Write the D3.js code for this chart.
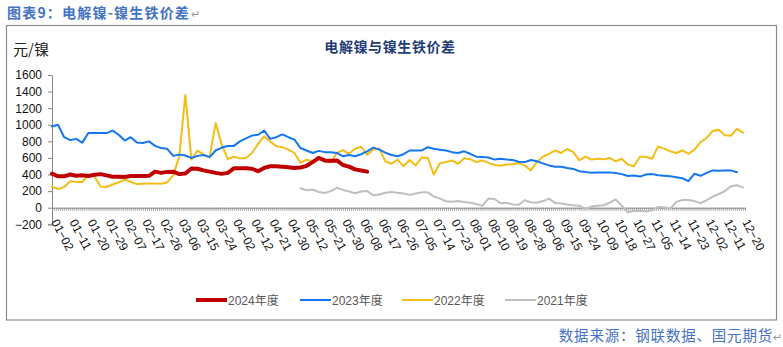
<!DOCTYPE html>
<html><head><meta charset="utf-8">
<script src="https://cdn.jsdelivr.net/npm/d3@7"></script>
<style>
html,body{margin:0;padding:0;background:#fff;}
svg text{font-family:"Liberation Sans","Noto Sans CJK SC",Arial,sans-serif;}
</style></head>
<body><svg id="c" width="783" height="347"></svg>
<script>
// ---- data ----
const xLabels = ["01-02","01-11","01-20","01-29","02-07","02-17","02-26","03-06","03-15","03-24","04-02","04-12","04-21","04-30","05-12","05-21","05-30","06-08","06-17","06-26","07-05","07-14","07-23","08-01","08-10","08-19","08-28","09-06","09-15","09-24","10-09","10-18","10-27","11-05","11-14","11-23","12-02","12-11","12-20"];
const nCategories = 344;      // daily categories on the axis
const labelEvery = 9;         // one label every 9 categories
const sampleStep = 3;         // values below are read every 3 categories

const s2024Start = 0;
const s2024 = [410,378,378,400,385,390,383,398,405,390,374,372,370,382,382,382,385,435,420,432,434,405,412,472,470,450,435,420,408,420,475,475,475,470,440,480,500,500,495,488,478,485,505,550,600,570,565,570,515,495,462,448,435];

const s2023Start = 0;
const s2023 = [980,1000,850,815,830,785,900,900,900,900,930,880,810,850,785,780,800,745,720,710,625,640,630,600,625,635,610,690,725,745,745,800,835,870,880,930,830,850,885,850,820,720,690,660,685,670,670,660,620,635,620,645,680,725,700,665,635,620,645,690,690,690,730,710,700,690,670,660,680,650,615,610,605,580,590,580,575,555,550,575,560,535,510,494,495,480,468,440,430,422,425,426,426,418,405,382,388,375,400,405,392,385,378,368,355,320,410,385,420,450,445,450,450,428];

const s2022Start = 0;
const s2022 = [255,225,250,320,310,310,394,380,255,250,280,305,340,310,285,290,293,293,290,305,390,620,1360,580,690,640,610,1020,760,585,615,595,600,660,770,860,800,740,730,700,660,540,580,560,610,555,545,660,695,650,710,735,640,700,715,560,530,580,500,575,510,605,600,400,535,550,570,530,595,585,550,570,540,515,505,520,525,540,510,450,550,615,650,690,660,710,670,570,615,580,590,583,600,560,590,520,500,615,615,590,740,712,680,660,690,650,700,790,840,925,940,875,868,950,905];

const s2021Start = 123;
const s2021 = [235,210,220,190,178,200,240,215,195,175,195,200,150,160,180,190,180,172,155,172,185,185,135,110,78,72,80,70,60,45,22,110,105,55,60,40,35,90,65,60,80,110,58,52,38,30,24,-15,15,25,30,60,100,25,-55,-40,-36,-45,-30,10,5,-15,70,92,92,80,55,90,133,165,200,258,270,245];

const yTicks = [-200,0,200,400,600,800,1000,1200,1400,1600];

const series = [
  {name:"2021年度", start:s2021Start, values:s2021, color:"#BFBFBF", width:2},
  {name:"2022年度", start:s2022Start, values:s2022, color:"#F2BE16", width:2},
  {name:"2023年度", start:s2023Start, values:s2023, color:"#1577F0", width:2},
  {name:"2024年度", start:s2024Start, values:s2024, color:"#C00000", width:4}
];
const legendOrder = ["2024年度","2023年度","2022年度","2021年度"];

// ---- drawing ----
const svg = d3.select("#c");
const x = d3.scaleLinear().domain([0, nCategories-1]).range([52, 745]);
const y = d3.scaleLinear().domain([-200,1600]).range([224.3, 75]);

// header
svg.append("text").attr("x",7).attr("y",18).attr("font-size",14).attr("font-weight","bold")
  .attr("fill","#4472C4").attr("letter-spacing",1.2)
  .style("font-family","'Noto Sans CJK SC',sans-serif").text("图表9：电解镍-镍生铁价差");
svg.append("text").attr("x",191).attr("y",18).attr("font-size",11).attr("fill","#999").text("↵");

// frame
svg.append("rect").attr("x",6.5).attr("y",25.5).attr("width",770).attr("height",294.5)
  .attr("fill","none").attr("stroke","#8C8C8C").attr("stroke-width",1.2);

svg.append("text").attr("x",13).attr("y",55).attr("font-size",15).attr("fill","#222")
  .style("font-family","'Noto Sans CJK SC',sans-serif").text("元/镍");
svg.append("text").attr("x",390).attr("y",52).attr("font-size",14).attr("font-weight","bold")
  .attr("text-anchor","middle").attr("fill","#1F3C7A").attr("letter-spacing",0.6)
  .style("font-family","'Noto Sans CJK SC',sans-serif").text("电解镍与镍生铁价差");

// y axis
const yAxis = d3.axisLeft(y).tickValues(yTicks).tickSize(4).tickPadding(6).tickFormat(d3.format("d"));
const gy = svg.append("g").attr("transform","translate(52,0)").call(yAxis);
gy.selectAll("path,line").attr("stroke","#888");
gy.selectAll("text").attr("font-size",12).attr("fill","#111")
  .style("font-family","'Liberation Sans',Arial,sans-serif")
  .text(d => d < 0 ? "\u2212" + Math.abs(d) : d);

// x axis at value 0 with dense category ticks
const xAxis = d3.axisBottom(x).tickValues(d3.range(0, nCategories)).tickSize(3).tickFormat("");
const gx = svg.append("g").attr("transform",`translate(0,${y(0)})`).call(xAxis);
gx.selectAll("path,line").attr("stroke","#8C8C8C").attr("stroke-width",0.8);
gx.select("path").attr("stroke-width",1);

// x labels
svg.append("g").selectAll("text").data(xLabels).join("text")
  .attr("transform",(d,i)=>`translate(${x(i*labelEvery)-1},222) rotate(62)`)
  .attr("font-size",12).attr("fill","#111")
  .style("font-family","'Liberation Sans',Arial,sans-serif")
  .text(d => d.replace("-","\u2212"));

// lines
const line = d3.line().x(d=>x(d[0])).y(d=>y(d[1]));
series.forEach(s=>{
  const pts = s.values.map((v,i)=>[s.start + i*sampleStep, v]);
  svg.append("path").datum(pts).attr("d",line).attr("fill","none")
    .attr("stroke",s.color).attr("stroke-width",s.width)
    .attr("stroke-linejoin","round").attr("stroke-linecap","round");
});

// legend
const legX = [196, 300, 402, 505];
const lg = svg.append("g");
legendOrder.forEach((name,i)=>{
  const s = series.find(t=>t.name===name);
  lg.append("line").attr("x1",legX[i]).attr("x2",legX[i]+31).attr("y1",300).attr("y2",300)
    .attr("stroke",s.color).attr("stroke-width",s.width);
  lg.append("text").attr("x",legX[i]+32).attr("y",304.5).attr("font-size",12).attr("fill","#595959")
    .text(name);
});

// footer
svg.append("text").attr("x",773).attr("y",341).attr("text-anchor","end").attr("font-size",14.5)
  .attr("fill","#4472C4").attr("letter-spacing",0.8)
  .style("font-family","'Noto Sans CJK SC',sans-serif").text("数据来源：钢联数据、国元期货");
svg.append("text").attr("x",773).attr("y",341).attr("font-size",11).attr("fill","#999").text("↵");
</script></body></html>
